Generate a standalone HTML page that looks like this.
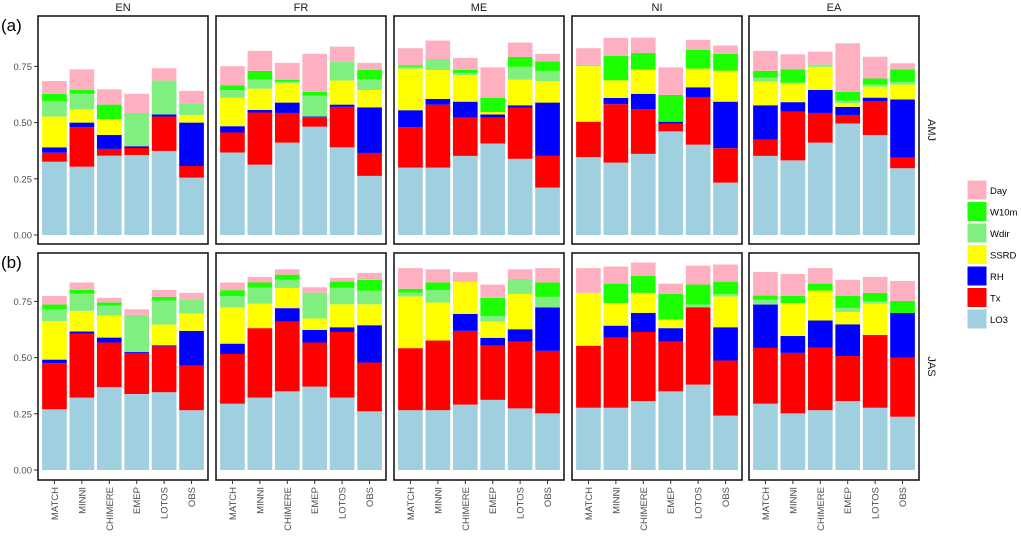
<!DOCTYPE html>
<html><head><meta charset="utf-8">
<style>
body{margin:0;background:#fff;width:1021px;height:531px;overflow:hidden;font-family:"Liberation Sans",Arial,sans-serif;}
svg text{font-family:"Liberation Sans",Arial,sans-serif;}
</style></head>
<body>
<svg id="chart" width="1021" height="531" viewBox="0 0 1021 531" xmlns="http://www.w3.org/2000/svg"></svg>
<script>
const regions = ["EN","FR","ME","NI","EA"];
const seasons = ["AMJ","JAS"];
const models = ["MATCH","MINNI","CHIMERE","EMEP","LOTOS","OBS"];
const factors = ["LO3","Tx","RH","SSRD","Wdir","W10m","Day"];
const yTicks = [0,0.25,0.5,0.75];
const yTickLabels = ["0.00","0.25","0.50","0.75"];
// values[season][region][model] = [LO3,Tx,RH,SSRD,Wdir,W10m,Day]
const amjEN = [[.326,.040,.024,.137,.069,.032,.057],[.304,.175,.021,.059,.069,.017,.092],[.353,.030,.062,.071,0,.064,.068],[.356,.031,.008,.001,.141,.003,.088],[.374,.153,.009,0,.151,0,.055],[.255,.052,.193,.034,.051,0,.056]];
const amjFR = [[.367,.089,.028,.126,.035,.020,.086],[.313,.232,.011,.095,.040,.039,.089],[.411,.132,.046,.086,.007,.009,.075],[.482,.042,.003,0,.092,.018,.169],[.390,.180,.010,.107,.083,0,.068],[.263,.102,.203,.077,.049,.040,.032]];
const amjME = [[.300,.179,.076,.185,.008,.006,.077],[.300,.280,.025,.129,.049,0,.082],[.352,.170,.071,.119,.009,.013,.054],[.407,.115,.014,.011,0,.064,.135],[.339,.228,.010,.114,.057,.044,.064],[.211,.141,.237,.096,.045,.042,.034]];
const amjNI = [[.347,.157,0,.247,.006,0,.074],[.322,.260,.028,.078,0,.109,.080],[.361,.198,.069,.108,0,.074,.068],[.461,.035,.008,0,0,.119,.123],[.402,.212,.043,.083,0,.083,.045],[.233,.153,.207,.138,0,.075,.037]];
const amjEA = [[.352,.072,.153,.105,.017,.031,.089],[.332,.217,.042,.081,.006,.059,.067],[.411,.132,.102,.103,.010,0,.058],[.496,.038,.036,.016,.011,.040,.216],[.445,.151,.015,.049,.009,.027,.097],[.297,.047,.259,.066,.012,.056,.027]];
const jasEN = [[.270,.205,.016,.172,.052,.021,.038],[.322,.285,.009,.092,.077,.016,.033],[.369,.198,.022,.098,.044,.014,.021],[.338,.183,.004,0,.165,0,.025],[.346,.204,.005,.092,.107,.016,.031],[.266,.198,.155,.077,.062,0,.030]];
const jasFR = [[.295,.221,.046,.161,.051,.026,.034],[.322,.309,0,.109,.072,.022,.025],[.350,.310,.060,.090,.037,.022,.024],[.371,.196,.056,.051,.115,0,.024],[.322,.292,.021,.102,.073,.028,.017],[.261,.217,.166,.093,.060,.049,.031]];
const jasME = [[.266,.276,0,.230,.017,.017,.092],[.266,.310,0,.169,.056,.033,.059],[.291,.328,.075,.143,0,0,.043],[.312,.241,.035,.072,.025,.081,.059],[.274,.297,.055,.157,.067,0,.043],[.252,.278,.193,0,.047,.064,.064]];
const jasNI = [[.277,.276,0,.235,0,0,.110],[.277,.311,.054,.101,0,.086,.076],[.307,.307,.085,.089,0,.076,.059],[.350,.221,.060,.038,0,.114,.046],[.380,.344,0,0,.012,.089,.084],[.242,.245,.148,.137,.011,.055,.076]];
const jasEA = [[.295,.248,.193,0,.021,.019,.105],[.252,.269,.075,.147,0,.031,.098],[.266,.279,.120,.133,0,.031,.069],[.307,.200,.141,.055,.018,.053,.072],[.277,.324,0,.139,.012,.036,.071],[.237,.262,.200,0,0,.053,.089]];
const values = [[amjEN,amjFR,amjME,amjNI,amjEA],[jasEN,jasFR,jasME,jasNI,jasEA]];
const colors = {LO3:"#a0cfe0",Tx:"#ff0000",RH:"#0000ff",SSRD:"#ffff00",Wdir:"#80ef80",W10m:"#1cff00",Day:"#ffb0c0"};

const NS="http://www.w3.org/2000/svg";
const svg=document.getElementById('chart');
function mk(tag,attrs,parent){const e=document.createElementNS(NS,tag);for(const k in attrs)e.setAttribute(k,attrs[k]);(parent||svg).appendChild(e);return e;}

const panelX0=[38,216,394,572,749], panelW=170;
const rowTop=[16,253], rowBot=[244,480], rowZero=[235,470], pxPerUnit=224.8;
const unitW=panelW/6.2;
function xCenter(p,i){return panelX0[p]+(i+0.6)*unitW;}
function yScale(r,v){return rowZero[r]-v*pxPerUnit;}

// strips
regions.forEach((reg,p)=>{
  const t=mk('text',{x:panelX0[p]+panelW/2,y:11,'text-anchor':'middle','font-size':11,fill:'#1a1a1a'});
  t.textContent=reg;
  
  
});
seasons.forEach((s,r)=>{
  const cy=(rowTop[r]+rowBot[r])/2;
  const t=mk('text',{x:0,y:0,'text-anchor':'middle','font-size':11,fill:'#1a1a1a',transform:`translate(928,${cy}) rotate(90)`});
  t.textContent=s;
  
  
  const lab=mk('text',{x:1,y:r==0?31:268,'font-size':17,fill:'#000'});
  lab.textContent=r==0?'(a)':'(b)';
  
  
  // y ticks
  yTicks.forEach((v,k)=>{
    const y=yScale(r,v);
    const tl=mk('line',{x1:34,x2:38,y1:y,y2:y,stroke:'#333','stroke-width':1});
    
    
    const tt=mk('text',{x:32,y:y+3.5,'text-anchor':'end','font-size':9.5,fill:'#4d4d4d'});
    tt.textContent=yTickLabels[k];
    
    
  });
});

for(let r=0;r<2;r++){
  for(let p=0;p<5;p++){
    const g=mk('g',{});
    
    
    models.forEach((m,i)=>{
      let cum=0;
      const bw=unitW*0.9;
      factors.forEach((f,k)=>{
        const v=values[r][p][i][k];
        if(v<=0){return;}
        const y1=yScale(r,cum), y2=yScale(r,cum+v);
        const rc=mk('rect',{x:xCenter(p,i)-bw/2,y:y2,width:bw,height:y1-y2,fill:colors[f]},g);
        
        
        cum+=v;
      });
    });
    const fr=mk('rect',{x:panelX0[p],y:rowTop[r],width:panelW,height:rowBot[r]-rowTop[r],fill:'none',stroke:'#1a1a1a','stroke-width':1.6});
    
    
  }
}
// x ticks + labels
for(let p=0;p<5;p++){
  models.forEach((m,i)=>{
    const x=xCenter(p,i);
    const tl=mk('line',{x1:x,x2:x,y1:480,y2:484,stroke:'#333','stroke-width':1});
    
    
    const t=mk('text',{x:0,y:0,'text-anchor':'end','font-size':9.5,fill:'#4d4d4d',transform:`translate(${x+3.5},487) rotate(-90)`});
    t.textContent=m;
    
    
  });
}
// legend
const legendOrder=["Day","W10m","Wdir","SSRD","RH","Tx","LO3"];
legendOrder.forEach((f,k)=>{
  const y=180+k*21.5;
  const rc=mk('rect',{x:967,y:y,width:20,height:20,fill:colors[f],stroke:'#fff','stroke-width':1});
  
  
  const t=mk('text',{x:990,y:y+14,'font-size':9.5,fill:'#000'});
  t.textContent=f;
  
  
});
</script>
</body></html>
